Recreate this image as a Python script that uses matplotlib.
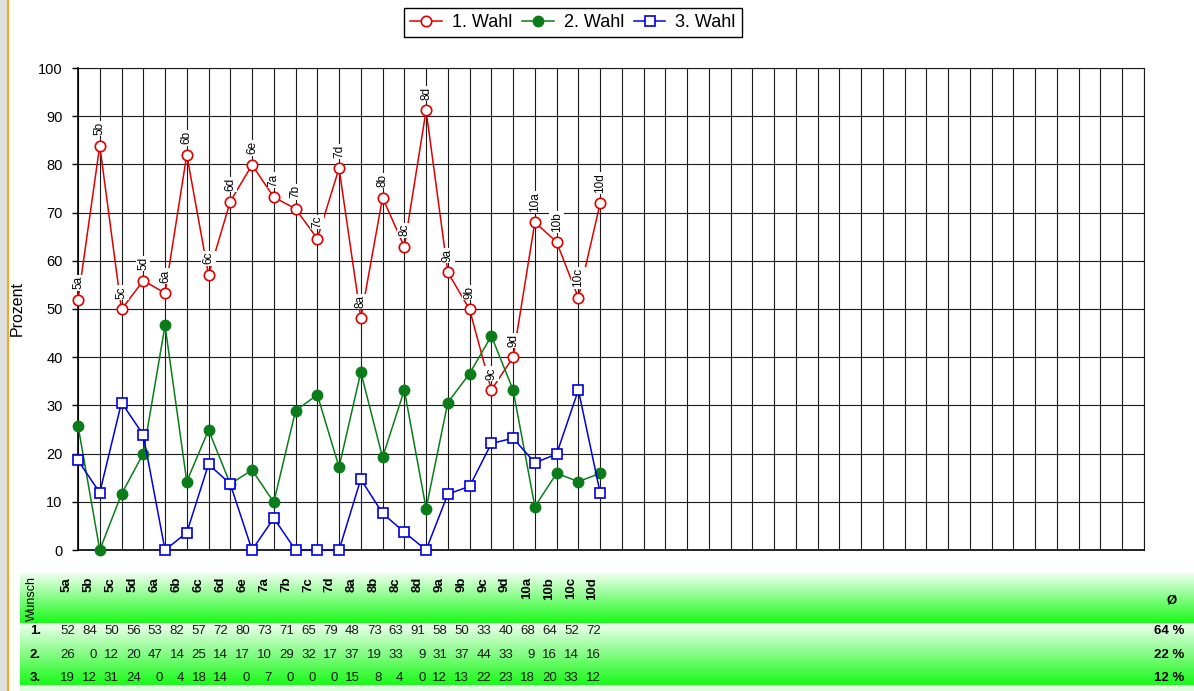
import numpy as np
import matplotlib
matplotlib.use("Agg")
import matplotlib.pyplot as plt
from matplotlib.colors import LinearSegmentedColormap
from matplotlib.patches import Rectangle
from matplotlib.lines import Line2D

plt.rcParams['font.family'] = ['Liberation Sans', 'DejaVu Sans']

klassen = ['5a', '5b', '5c', '5d', '6a', '6b', '6c', '6d', '6e', '7a', '7b', '7c', '7d',
           '8a', '8b', '8c', '8d', '9a', '9b', '9c', '9d', '10a', '10b', '10c', '10d']

# Anteil (Prozent) der Schüler, die ihren 1./2./3. Wunsch bekommen haben
wahl1 = [51.9, 83.9, 49.9, 55.9, 53.3, 82.0, 57.1, 72.3, 79.9, 73.2, 70.8, 64.6, 79.2,
         48.1, 73.1, 62.9, 91.2, 57.6, 49.9, 33.2, 40.0, 68.0, 63.9, 52.3, 71.9]
wahl2 = [25.8, 0.0, 11.6, 20.0, 46.6, 14.2, 24.9, 13.7, 16.6, 9.9, 28.9, 32.2, 17.2,
         36.9, 19.2, 33.2, 8.6, 30.6, 36.6, 44.4, 33.2, 9.0, 15.9, 14.2, 15.9]
wahl3 = [18.6, 11.9, 30.6, 23.9, 0.0, 3.6, 17.8, 13.7, 0.0, 6.6, 0.0, 0.0, 0.0,
         14.7, 7.6, 3.7, 0.0, 11.6, 13.2, 22.1, 23.2, 18.1, 19.9, 33.2, 11.9]
durchschnitt = [64, 22, 12]
serien_namen = ['1. Wahl', '2. Wahl', '3. Wahl']
n_spalten = 49

W, H = 1194, 691


def fx(px):
    return px / W


def fy(py):
    return 1 - py / H


fig = plt.figure(figsize=(W / 100, H / 100), dpi=100)

# grauer Rand links mit orangener Linie
fig.patches.append(Rectangle((0, 0), fx(7), 1, transform=fig.transFigure,
                             facecolor='#e0e0e0', edgecolor='none', zorder=0))
fig.add_artist(Line2D([fx(7.5), fx(7.5)], [0, 1], color='#f5a623', lw=1.5))

ax = fig.add_axes([fx(78), fy(550), fx(1144) - fx(78), fy(68) - fy(550)])
x = np.arange(len(klassen))

ax.plot(x, wahl1, color='#e00000', lw=1.1, marker='o', ms=7.5, mfc='white',
        mec='#e00000', mew=1.2, label=serien_namen[0], zorder=3, clip_on=False)
ax.plot(x, wahl2, color='#0a7d1a', lw=1.1, marker='o', ms=7.5, mfc='#0a7d1a',
        mec='#0a7d1a', mew=1.0, label=serien_namen[1], zorder=4, clip_on=False)
ax.plot(x, wahl3, color='#0000e0', lw=1.1, marker='s', ms=7.5, mfc='white',
        mec='#0000e0', mew=1.2, label=serien_namen[2], zorder=5, clip_on=False)

for i, k in enumerate(klassen):
    ax.annotate(k, (x[i], wahl1[i]), xytext=(0, 7.5), textcoords='offset points',
                rotation=90, ha='center', va='bottom', fontsize=8.5, zorder=6,
                bbox=dict(boxstyle='square,pad=0.1', fc='white', ec='none'))

ax.set_xlim(0, n_spalten)
ax.set_ylim(0, 100)
ax.set_xticks(np.arange(0, n_spalten + 1))
ax.set_yticks(np.arange(0, 101, 10))
ax.grid(True, color='#1a1a1a', lw=0.8)
ax.set_axisbelow(True)
ax.tick_params(axis='x', length=0, labelbottom=False)
ax.tick_params(axis='y', length=4, width=1, pad=7, labelsize=10.5)
for s in ax.spines.values():
    s.set_color('#1a1a1a')
    s.set_linewidth(0.8)
ax.spines['left'].set_color('black')
ax.spines['bottom'].set_color('black')
ax.spines['left'].set_linewidth(1.2)
ax.spines['bottom'].set_linewidth(1.2)

fig.text(fx(17), fy(309), 'Prozent', rotation=90, ha='center', va='center', fontsize=11.5)

leg = fig.legend(loc='center', bbox_to_anchor=(fx(573), fy(22.5)), ncol=3, fontsize=13,
                 handlelength=1.75, handletextpad=0.55, columnspacing=0.55,
                 borderpad=0.35, fancybox=False, framealpha=1, edgecolor='black')
leg.get_frame().set_linewidth(1.0)

# Tabelle unten mit grünem Farbverlauf
gruen = LinearSegmentedColormap.from_list('gruen', ['#f0fff0', '#18fa18'])
verlauf = np.linspace(0, 1, 256).reshape(-1, 1)
for top, bottom in [(573, 623), (623, 685), (685, 735)]:
    bax = fig.add_axes([fx(20), fy(bottom), 1 - fx(20), fy(top) - fy(bottom)], zorder=-1)
    bax.imshow(verlauf, aspect='auto', cmap=gruen, extent=[0, 1, 0, 1])
    bax.axis('off')

fig.text(fx(32), fy(576), 'Wunsch', rotation=90, ha='center', va='top', fontsize=9)
spalte = 21.9
for i, k in enumerate(klassen):
    fig.text(fx(67 + spalte * i), fy(577), k, rotation=90, ha='center', va='top',
             fontsize=9.5, fontweight='bold')
fig.text(fx(1172), fy(601), 'Ø', ha='center', va='center', fontsize=9.5, fontweight='bold')

zeilen_y = [631, 655, 678]
for r, werte in enumerate([wahl1, wahl2, wahl3]):
    yy = fy(zeilen_y[r])
    fig.text(fx(30), yy, f'{r + 1}.', ha='left', va='center', fontsize=9.5, fontweight='bold')
    for i, v in enumerate(werte):
        fig.text(fx(75 + spalte * i), yy, f'{v:.0f}', ha='right', va='center',
                 fontsize=9.5, color='#1a1a1a')
    fig.text(fx(1184), yy, f'{durchschnitt[r]} %', ha='right', va='center',
             fontsize=9.5, fontweight='bold')

fig.savefig('out.png', dpi=100)
